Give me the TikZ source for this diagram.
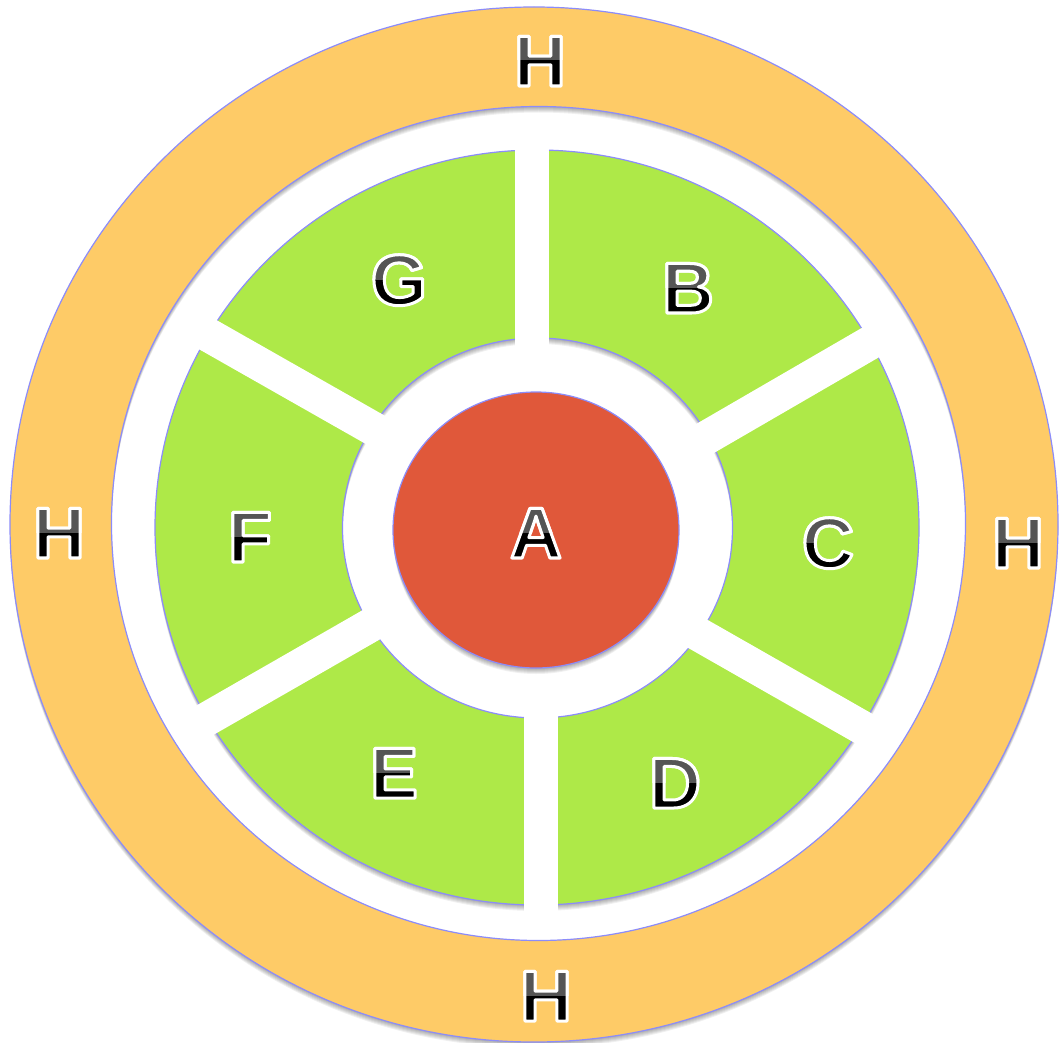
\documentclass[tikz,border=0pt]{standalone}
\usepackage{fontspec}
\setmainfont{Liberation Sans}
\definecolor{ringorange}{HTML}{FECB67}
\definecolor{ringgreen}{HTML}{AEE948}
\definecolor{corered}{HTML}{E0583A}
\definecolor{edgeblue}{HTML}{8C8CFA}
\definecolor{lettergray}{HTML}{555555}
\newcommand\outlined[1]{\special{pdf:literal direct 2 Tr 3 w 1 G 1 j}#1\special{pdf:literal direct 0 Tr}}
\tikzset{
  edge/.style={draw=edgeblue,line width=1.2pt},
  bar/.style={draw=white,line width=34pt,line cap=butt},
  shade/.style={fill=black,fill opacity=0.06,even odd rule},
  labbase/.style={inner sep=0pt,outer sep=0pt,anchor=center,text height=52pt,text depth=0pt,font=\fontsize{72}{72}\bfseries\selectfont},
  labk/.style={labbase,text=black},
  labg/.style={labbase,text=lettergray}
}
\newcommand\outlab[3]{%
  \node[labk] (#1) at (#2) {\outlined{#3}};
  \begin{scope}
    \clip ([xshift=-45pt]#1.center) rectangle ([xshift=45pt,yshift=40pt]#1.center);
    \node[labg] at (#2) {\outlined{#3}};
  \end{scope}
}
\begin{document}
\begin{tikzpicture}[x=1pt,y=-1pt]
\useasboundingbox (0,0) rectangle (1060,1043);
\fill[white] (0,0) rectangle (1060,1043);
% orange ring (with soft shadow)
\foreach \k in {1,...,6}{
  \path[shade,shift={(0,\k)}] (534,524.5) ellipse [x radius=524pt,y radius=517.5pt] (538.5,523.5) ellipse [x radius=427pt,y radius=417pt];
}
\path[fill=ringorange,even odd rule] (534,524.5) ellipse [x radius=524pt,y radius=517.5pt] (538.5,523.5) ellipse [x radius=427pt,y radius=417pt];
\draw[edge] (534,524.5) ellipse [x radius=524pt,y radius=517.5pt];
\draw[edge] (538.5,523.5) ellipse [x radius=427pt,y radius=417pt];
% green ring (with soft shadow)
\foreach \k in {1,...,6}{
  \path[shade,shift={(0,\k)}] (537,527.5) ellipse [x radius=382pt,y radius=377.5pt] (537.5,528) ellipse [x radius=195pt,y radius=190pt];
}
\path[fill=ringgreen,even odd rule] (537,527.5) ellipse [x radius=382pt,y radius=377.5pt] (537.5,528) ellipse [x radius=195pt,y radius=190pt];
\draw[edge] (537,527.5) ellipse [x radius=382pt,y radius=377.5pt];
\draw[edge] (537.5,528) ellipse [x radius=195pt,y radius=190pt];
% white separating bars
\coordinate (t1) at (532,357); \coordinate (t2) at (532,132);
\coordinate (b1) at (541,700); \coordinate (b2) at (541,918);
\coordinate (fg1) at (390,438.2); \coordinate (fg2) at (195,327.4);
\coordinate (bc1) at (684,450.7); \coordinate (bc2) at (879,337.6);
\coordinate (cd1) at (684,626); \coordinate (cd2) at (879,737.2);
\coordinate (ef1) at (390,614); \coordinate (ef2) at (195,725.9);
\draw[bar] (t1) -- (t2);
\draw[bar] (b1) -- (b2);
\draw[bar] (fg1) -- (fg2);
\draw[bar] (bc1) -- (bc2);
\draw[bar] (cd1) -- (cd2);
\draw[bar] (ef1) -- (ef2);
% red core (with soft shadow)
\foreach \k in {1,...,6}{
  \path[shade,shift={(0,\k)}] (536,530) ellipse [x radius=143pt,y radius=138pt];
}
\path[fill=corered] (536,530) ellipse [x radius=143pt,y radius=138pt];
\draw[edge] (536,530) ellipse [x radius=143pt,y radius=138pt];
% labels
\outlab{la}{536,532}{A}
\outlab{lb}{688,287}{B}
\outlab{lc}{828,542}{C}
\outlab{ld}{675,782}{D}
\outlab{le}{394,772}{E}
\outlab{lf}{250,536}{F}
\outlab{lg}{399,279}{G}
\outlab{lht}{540,60}{H}
\outlab{lhl}{59,532}{H}
\outlab{lhr}{1018,542}{H}
\outlab{lhb}{546,995}{H}
\end{tikzpicture}
\end{document}
